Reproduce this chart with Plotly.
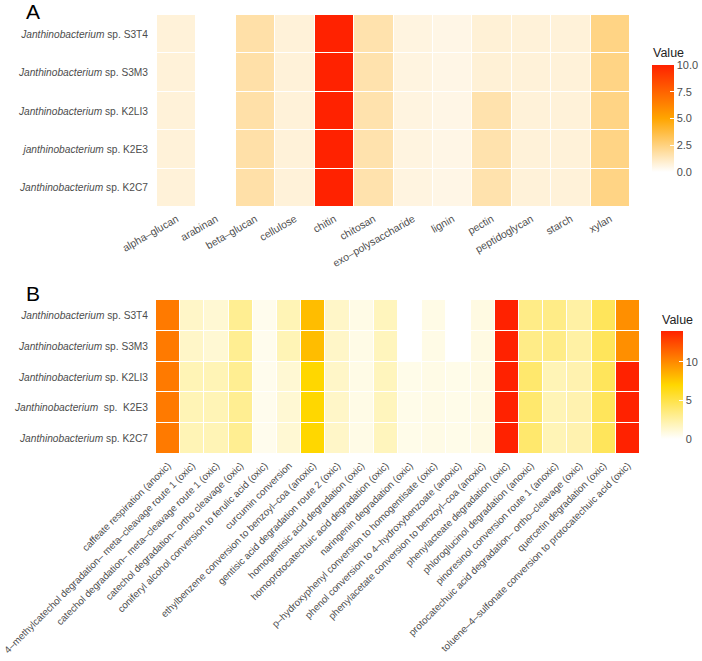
import plotly.graph_objects as go

W, H = 702, 661

strains = ["S3T4", "S3M3", "K2LI3", "K2E3", "K2C7"]
labels_a = ["<i>Janthinobacterium</i> sp. S3T4", "<i>Janthinobacterium</i> sp. S3M3",
            "<i>Janthinobacterium</i> sp. K2LI3", "<i>janthinobacterium</i> sp. K2E3",
            "<i>Janthinobacterium</i> sp. K2C7"]
labels_b = ["<i>Janthinobacterium</i> sp. S3T4", "<i>Janthinobacterium</i> sp. S3M3",
            "<i>Janthinobacterium</i> sp. K2LI3", "<i>Janthinobacterium</i>  sp.  K2E3",
            "<i>Janthinobacterium</i> sp. K2C7"]

substrates = ["alpha–glucan", "arabinan", "beta–glucan", "cellulose", "chitin", "chitosan",
              "exo–polysaccharide", "lignin", "pectin", "peptidoglycan", "starch", "xylan"]
# rows top -> bottom: S3T4, S3M3, K2LI3, K2E3, K2C7
values_a = [
    [0.75, 0, 1.7, 0.75, 10, 1.6, 0.6, 0.5, 0.8, 0.75, 0.75, 2.4],
    [0.75, 0, 1.7, 0.75, 10, 1.6, 0.6, 0.5, 0.8, 0.75, 0.75, 2.4],
    [0.75, 0, 1.7, 0.75, 10, 1.6, 0.6, 0.5, 1.6, 0.75, 0.75, 2.4],
    [0.75, 0, 1.7, 0.75, 10, 1.6, 0.6, 0.5, 1.6, 0.75, 0.75, 2.4],
    [0.75, 0, 1.7, 0.75, 10, 1.6, 0.6, 0.5, 1.6, 0.75, 0.75, 2.4],
]

pathways = [
    "caffeate respiration (anoxic)",
    "4–methylcatechol degradation– meta–cleavage route 1 (oxic)",
    "catechol degradation– meta–cleavage route 1 (oxic)",
    "catechol degradation– ortho cleavage (oxic)",
    "coniferyl alcohol conversion to ferulic acid (oxic)",
    "curcumin conversion",
    "ethylbenzene conversion to benzoyl–coa (anoxic)",
    "gentisic acid degradation route 2 (oxic)",
    "homogentisic acid degradation (oxic)",
    "homoprotocatechuic acid degradation (oxic)",
    "naringenin degradation (oxic)",
    "p–hydroxyphenyl conversion to homogentisate (oxic)",
    "phenol conversion to 4–hydroxybenzoate (anoxic)",
    "phenylacetate conversion to benzoyl–coa (anoxic)",
    "phenylacteate degradation (oxic)",
    "phloroglucinol degradation (anoxic)",
    "pinoresinol conversion route 1 (anoxic)",
    "protocatechuic acid degradation– ortho–cleavage (oxic)",
    "quercetin degradation (oxic)",
    "toluene–4–sulfonate conversion to protocatechuic acid (oxic)",
]
values_b = [
    [10.6, 1.5, 1.2, 3.0, 0.5, 2.0, 8.0, 1.5, 0.7, 1.8, 0.0, 0.7, 0.0, 0.8, 14, 3.3, 3.3, 2.5, 4.5, 9.8],
    [10.6, 1.5, 1.2, 3.0, 0.5, 2.0, 8.0, 1.5, 0.7, 1.8, 0.0, 0.7, 0.0, 0.8, 14, 3.3, 3.3, 2.5, 4.5, 9.8],
    [10.6, 2.0, 2.0, 3.0, 0.5, 1.2, 7.0, 1.5, 0.7, 1.8, 0.6, 0.7, 0.6, 0.8, 14, 4.0, 2.0, 2.2, 4.5, 14],
    [10.6, 2.0, 2.0, 3.0, 0.5, 1.2, 7.0, 1.5, 0.7, 1.8, 0.6, 0.7, 0.6, 0.8, 14, 4.0, 2.0, 2.2, 4.5, 14],
    [10.6, 2.0, 2.0, 3.0, 0.5, 1.2, 7.0, 1.5, 0.7, 1.8, 0.6, 0.7, 0.6, 0.8, 14, 4.0, 2.0, 2.2, 4.5, 14],
]

cb_a_ticks = [0, 2.5, 5, 7.5, 10]
cb_b_ticks = [0, 5, 10]

FONT = "Liberation Sans, Arial, Helvetica, sans-serif"
GREY = "#4D4D4D"

def px(x):
    return x / W

def py(y):
    return 1 - y / H

fig = go.Figure()
fig.add_trace(go.Heatmap(
    z=values_a, x=substrates, y=list(range(len(strains))),
    coloraxis="coloraxis", xgap=1, ygap=1, xaxis="x", yaxis="y",
))
fig.add_trace(go.Heatmap(
    z=values_b, x=pathways, y=list(range(len(strains))),
    coloraxis="coloraxis2", xgap=1, ygap=1, xaxis="x2", yaxis="y2",
))

fig.update_layout(
    width=W, height=H,
    margin=dict(l=0, r=0, t=0, b=0, autoexpand=False),
    paper_bgcolor="white", plot_bgcolor="white",
    font=dict(family=FONT, color=GREY, size=11),
    xaxis=dict(domain=[px(157), px(630)], anchor="y", tickangle=-30, automargin=False,
               tickfont=dict(size=10.5, color=GREY), showgrid=False, zeroline=False,
               ticks="", ticklabelstandoff=3),
    yaxis=dict(domain=[py(207), py(15)], anchor="x", autorange="reversed", automargin=False,
               tickvals=list(range(5)), ticktext=labels_a,
               tickfont=dict(size=10.2, color=GREY), showgrid=False, zeroline=False,
               ticks="", ticklabelstandoff=8),
    xaxis2=dict(domain=[px(156), px(640)], anchor="y2", tickangle=-45, automargin=False,
                tickfont=dict(size=9.8, color=GREY), showgrid=False, zeroline=False,
                ticks="", ticklabelstandoff=3),
    yaxis2=dict(domain=[py(454), py(300)], anchor="x2", autorange="reversed", automargin=False,
                tickvals=list(range(5)), ticktext=labels_b,
                tickfont=dict(size=10.2, color=GREY), showgrid=False, zeroline=False,
                ticks="", ticklabelstandoff=7),
    coloraxis=dict(
        cmin=0, cmax=10,
        colorscale=[[0, "#FFFFFF"], [0.5, "#FFA500"], [1, "#FF2200"]],
        colorbar=dict(
            x=px(652), xanchor="left", xpad=0,
            y=py(65), yanchor="top", ypad=0,
            len=107, lenmode="pixels", thickness=22, outlinewidth=0,
            tickvals=cb_a_ticks, tickformat=".1f",
            ticks="inside", ticklen=4, tickcolor="white",
            tickfont=dict(size=11, color=GREY, family=FONT),
        ),
    ),
    coloraxis2=dict(
        cmin=0, cmax=14,
        colorscale=[[0, "#FFFFFF"], [0.5, "#FFD700"], [1, "#FF2200"]],
        colorbar=dict(
            x=px(661), xanchor="left", xpad=0,
            y=py(331), yanchor="top", ypad=0,
            len=108, lenmode="pixels", thickness=22, outlinewidth=0,
            tickvals=cb_b_ticks,
            ticks="inside", ticklen=4, tickcolor="white",
            tickfont=dict(size=11, color=GREY, family=FONT),
        ),
    ),
    annotations=[
        dict(text="A", x=px(24), y=py(11), xref="paper", yref="paper",
             xanchor="left", yanchor="middle", showarrow=False,
             font=dict(size=21, color="black", family=FONT)),
        dict(text="B", x=px(24), y=py(293), xref="paper", yref="paper",
             xanchor="left", yanchor="middle", showarrow=False,
             font=dict(size=21, color="black", family=FONT)),
        dict(text="Value", x=px(651), y=py(53), xref="paper", yref="paper",
             xanchor="left", yanchor="middle", showarrow=False,
             font=dict(size=12.5, color="#222222", family=FONT)),
        dict(text="Value", x=px(660), y=py(320), xref="paper", yref="paper",
             xanchor="left", yanchor="middle", showarrow=False,
             font=dict(size=12.5, color="#222222", family=FONT)),
    ],
)

fig.write_html("out.html")
